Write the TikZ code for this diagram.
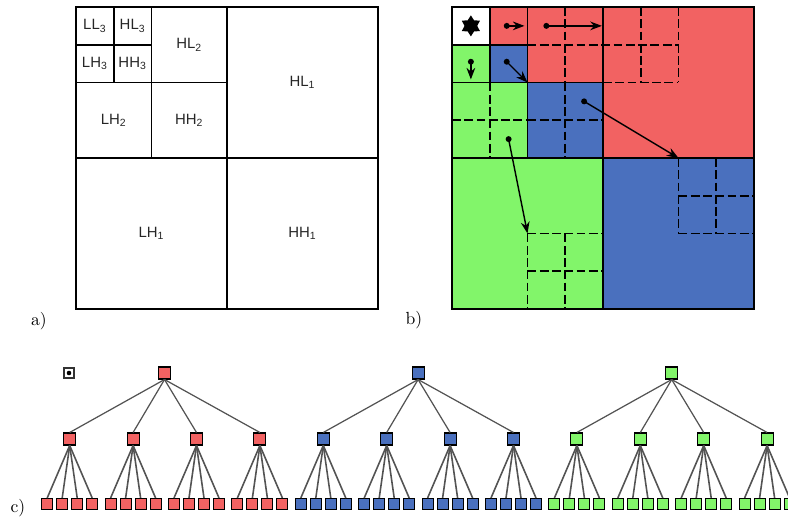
\documentclass[tikz,border=0pt]{standalone}
\usepackage{fontspec}
\setsansfont{Liberation Sans}
\usetikzlibrary{arrows.meta,shapes.geometric}
\definecolor{hired}{RGB}{242,98,98}
\definecolor{hiblue}{RGB}{74,112,190}
\definecolor{higreen}{RGB}{130,245,106}
\tikzset{>=Stealth,every node/.style={font=\small},
  band/.style={font=\sffamily\fontsize{8.5}{10}\selectfont,text=black!85},
  panel/.style={font=\normalsize},
  subdiv/.style={line width=1pt,dash pattern=on 5pt off 2pt},
  scanarrow/.style={line width=.8pt,->},
  coef/.style={draw,line width=.6pt,minimum size=.24cm,inner sep=0},
  tedge/.style={line width=.7pt,gray!65!black}}

\begin{document}
\begin{tikzpicture}[x=.02cm,y=-.02cm]
\useasboundingbox (0,0) rectangle (788,521);
% a) subbands
\begin{scope}[shift={(76,7)},x=.755cm,y=-.755cm,line width=1pt]
\draw (0,0) rectangle (8,8);\draw (4,0)--(4,8);\draw (0,4)--(8,4);
\draw (2,0)--(2,4);\draw (0,2)--(4,2);\draw (1,0)--(1,2);\draw (0,1)--(2,1);
\node[band] (ll3) at (.5,.5){LL\textsubscript{3}};\node[band] (hl3) at (1.5,.5){HL\textsubscript{3}};
\node[band] (lh3) at (.5,1.5){LH\textsubscript{3}};\node[band] (hh3) at (1.5,1.5){HH\textsubscript{3}};
\node[band] (hl2) at (3,1){HL\textsubscript{2}};\node[band] (lh2) at (1,3){LH\textsubscript{2}};\node[band] (hh2) at (3,3){HH\textsubscript{2}};
\node[band] (hl1) at (6,2){HL\textsubscript{1}};\node[band] (lh1) at (2,6){LH\textsubscript{1}};\node[band] (hh1) at (6,6){HH\textsubscript{1}};
\end{scope}
% b) parent-child scan
\begin{scope}[shift={(452,7)},x=.755cm,y=-.755cm,line width=1pt]
\fill[white] (0,0) rectangle (1,1);
\fill[hired] (1,0) rectangle (2,1);\fill[hired] (2,0) rectangle (4,2);\fill[hired] (4,0) rectangle (8,4);
\fill[higreen] (0,1) rectangle (1,2);\fill[higreen] (0,2) rectangle (2,4);\fill[higreen] (0,4) rectangle (4,8);
\fill[hiblue] (1,1) rectangle (2,2);\fill[hiblue] (2,2) rectangle (4,4);\fill[hiblue] (4,4) rectangle (8,8);
\draw[subdiv] (3,0)--(3,2) (2,1)--(6,1) (5,0)--(5,2) (6,0)--(6,2) (4,2)--(6,2);
\draw[subdiv] (3,2)--(3,4) (2,3)--(4,3) (1,2)--(1,4) (0,3)--(2,3);
\draw[subdiv] (6,4)--(6,6) (7,4)--(7,6) (6,5)--(8,5) (6,6)--(8,6);
\draw[subdiv] (2,6)--(2,8) (3,6)--(3,8) (2,6)--(4,6) (2,7)--(4,7);
\draw (0,0) rectangle (8,8);\draw (4,0)--(4,8);\draw (0,4)--(8,4);
\draw (2,0)--(2,4);\draw (0,2)--(4,2);\draw (1,0)--(1,2);\draw (0,1)--(2,1);
\node[star,star points=6,star point ratio=1.65,fill=black,minimum size=.42cm,inner sep=0] (dc) at (.5,.5){};
\coordinate (s1) at (1.45,.5);\coordinate (e1) at (1.92,.5);
\coordinate (s2) at (2.5,.5);\coordinate (e2) at (3.97,.5);
\coordinate (s3) at (.5,1.45);\coordinate (e3) at (.5,1.92);
\coordinate (s4) at (1.45,1.45);\coordinate (e4) at (2,2);
\coordinate (s5) at (3.5,2.5);\coordinate (e5) at (6,4);
\coordinate (s6) at (1.5,3.5);\coordinate (e6) at (2,6);
\foreach \n in {1,...,6}{\fill (s\n) circle(1.7pt);\draw[scanarrow] (s\n)--(e\n);}
\end{scope}
\node[panel] (la) at (39,321){a)};\node[panel] (lb) at (414,320){b)};\node[panel] (lc) at (18,508){c)};
% c) tree
\node[draw=black!80,line width=1.2pt,fill=white,minimum size=.2cm,inner sep=0] (root) at (69,373){};\fill (root) circle(1.3pt);
\foreach \c [count=\i from 0] in {hired,hiblue,higreen}{
  \node[coef,fill=\c] (r\i) at ({164.5+253.6*\i},373){};
  \foreach \m in {0,...,3}{
    \node[coef,fill=\c] (m\i\m) at ({69.7+63.4*(4*\i+\m)},439){};
    \draw[tedge] (r\i.south)--(m\i\m.north);
    \foreach \j in {0,...,3}{
      \node[coef,fill=\c,minimum size=.22cm] (l\i\m\j) at ({69.7+63.4*(4*\i+\m)+15*(\j-1.5)},504){};
      \draw[tedge,line width=.9pt] (m\i\m.south)--(l\i\m\j.north);
    }
  }
}
\end{tikzpicture}
\end{document}
